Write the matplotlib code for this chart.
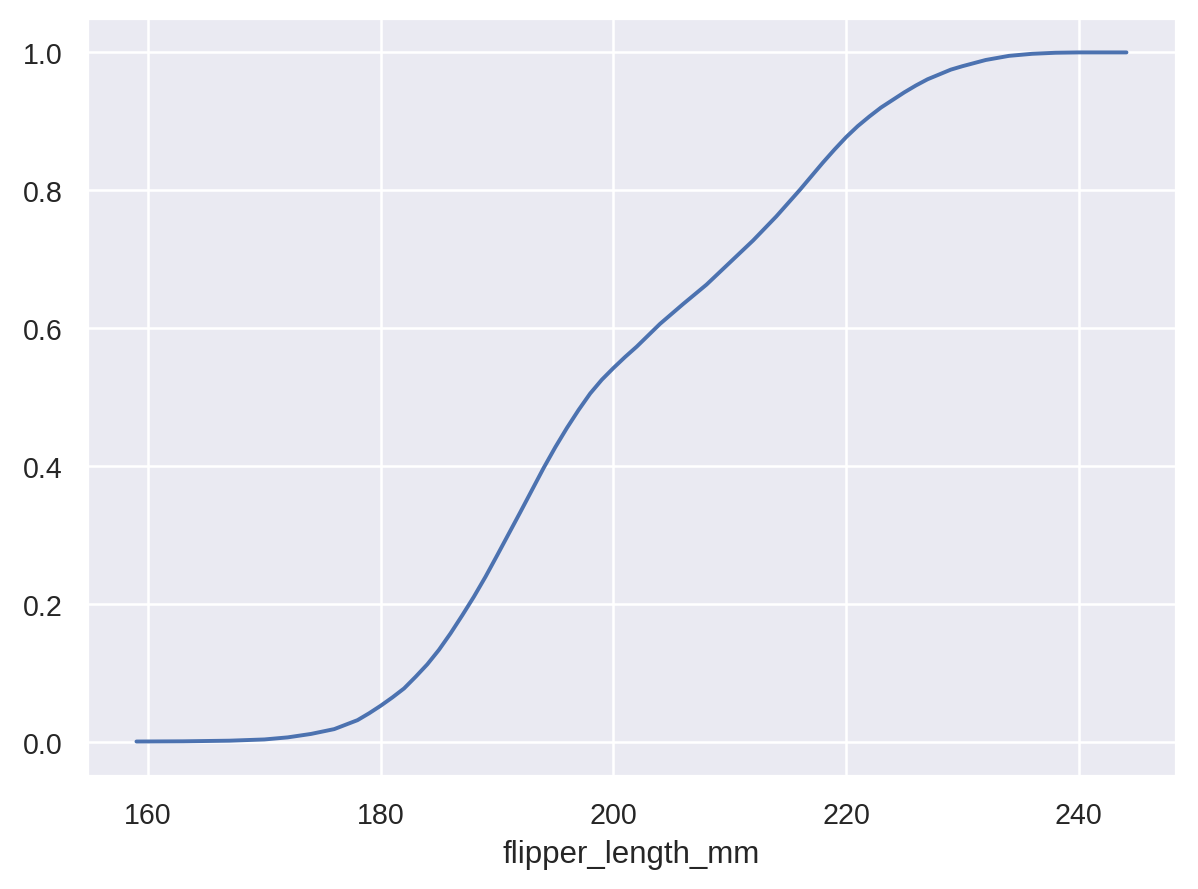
import matplotlib
matplotlib.use("Agg")
import matplotlib.pyplot as plt
import seaborn as sns

# cumulative density
flipper_length_mm = [159.0, 163, 167, 170, 172, 174, 176, 178, 179, 180, 181, 182, 183,
                     184, 185, 186, 187, 188, 189, 190, 192, 194, 195, 196, 197, 198,
                     199, 200, 201, 202, 204, 206, 208, 210, 212, 214, 216, 217, 218,
                     219, 220, 221, 222, 223, 224, 225, 226, 227, 228, 229, 230, 232,
                     234, 236, 238, 240, 242, 244.1]
cdf = [0.0, 0.0003, 0.0012, 0.003, 0.006, 0.011, 0.018, 0.031, 0.041, 0.052, 0.064,
       0.077, 0.094, 0.112, 0.133, 0.157, 0.183, 0.21, 0.239, 0.27, 0.333, 0.397,
       0.427, 0.455, 0.481, 0.505, 0.525, 0.542, 0.558, 0.573, 0.606, 0.635, 0.663,
       0.695, 0.727, 0.762, 0.8, 0.82, 0.84, 0.859, 0.877, 0.893, 0.907, 0.92, 0.931,
       0.942, 0.952, 0.961, 0.968, 0.975, 0.98, 0.989, 0.995, 0.998, 0.9995, 1.0,
       1.0, 1.0]

sns.set_theme(style="darkgrid", context="notebook")
plt.rcParams["font.family"] = ["Liberation Sans", "DejaVu Sans"]

dpi = 187.2
fig, ax = plt.subplots(figsize=(1198 / dpi, 890 / dpi), dpi=dpi)
fig.subplots_adjust(left=0.0726, right=0.9816, top=0.9787, bottom=0.127)

ax.plot(flipper_length_mm, cdf, color="#4c72b0", linewidth=1.5,
        solid_joinstyle="round", solid_capstyle="round")
ax.set_xlabel("flipper_length_mm")
ax.set_ylabel("")
ax.set_xticks([160, 180, 200, 220, 240])
ax.set_yticks([0.0, 0.2, 0.4, 0.6, 0.8, 1.0])

fig.savefig("out.png", dpi=dpi)
